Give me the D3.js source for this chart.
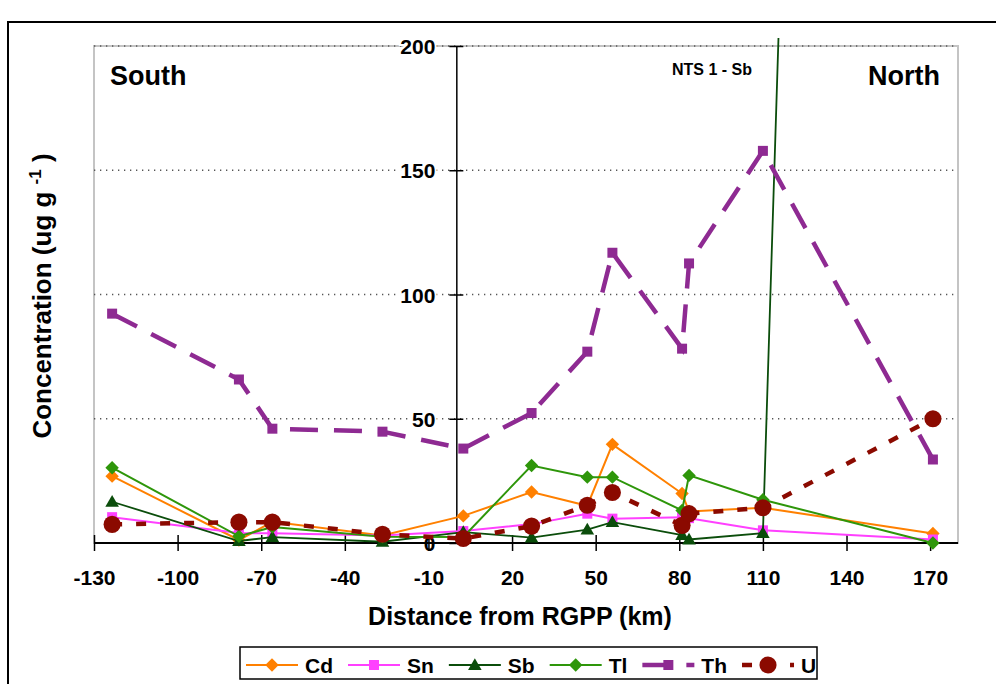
<!DOCTYPE html>
<html>
<head>
<meta charset="utf-8">
<script src="https://cdnjs.cloudflare.com/ajax/libs/d3/7.8.5/d3.min.js"></script>
<style>
  body { margin: 0; background: #fff; }
  svg text { font-family: "Liberation Sans", Arial, sans-serif; font-weight: bold; fill: #000; }
</style>
</head>
<body>
<div id="chart"></div>
<script>
// distance of each sampling site from RGPP (km)
const distances = [-123.5, -78, -66, -26.5, 2.5, 27, 47, 56, 81, 83.5, 110, 171];

// concentrations (ug g-1)
const cd = [26.9, 1.2, 8.5, 3.0, 10.9, 20.5, 15.0, 39.7, 19.9, 12.7, 14.2, 3.8];
const sn = [10.4, 4.0, 3.9, 3.0, 4.8, 7.6, 11.8, 9.8, 10.4, 10.0, 5.1, 1.4];
const sb = [16.6, 0.8, 2.4, 0.5, 4.4, 2.2, 5.4, 8.4, 3.2, 1.4, 4.0, 2180];
const tl = [30.3, 2.7, 6.4, 2.5, 2.4, 31.2, 26.5, 26.5, 13.1, 27.2, 17.4, 0];
const th = [92.3, 65.8, 46.0, 44.8, 38.0, 52.3, 77.0, 116.8, 78.2, 112.5, 157.8, 33.6];
const u  = [7.5, 8.4, 8.4, 3.5, 1.8, 6.8, 15.2, 20.3, 7.1, 11.8, 14.2, 50.0];

const xTicks = [-130, -100, -70, -40, -10, 20, 50, 80, 110, 140, 170];
const yTicks = [0, 50, 100, 150, 200];

const series = [
  {name: "Cd", values: cd, color: "#ff8000", width: 2,   dash: null,    marker: "diamond"},
  {name: "Sn", values: sn, color: "#ff40ff", width: 2,   dash: null,    marker: "square"},
  {name: "Sb", values: sb, color: "#0b4d0b", width: 2,   dash: null,    marker: "triangle"},
  {name: "Tl", values: tl, color: "#2e960a", width: 2,   dash: null,    marker: "diamond"},
  {name: "Th", values: th, color: "#8e2a92", width: 4.5, dash: "28,16", marker: "square"},
  {name: "U",  values: u,  color: "#8b0a00", width: 4.5, dash: "10,14", marker: "circle"}
];

const width = 996;
const height = 684;
const plot = {left: 94, right: 958, top: 46, bottom: 543};

const svg = d3.select("#chart").append("svg")
    .attr("width", width)
    .attr("height", height);

// outer chart frame (runs off the right and bottom)
svg.append("rect")
    .attr("x", 8).attr("y", 22)
    .attr("width", 1010).attr("height", 720)
    .attr("fill", "#fff")
    .attr("stroke", "#000")
    .attr("stroke-width", 2);

const x = d3.scaleLinear().domain([-130, 180]).range([plot.left, plot.right]);
const y = d3.scaleLinear().domain([0, 200]).range([plot.bottom, plot.top]);

// plot area border
svg.append("rect")
    .attr("x", plot.left).attr("y", plot.top)
    .attr("width", plot.right - plot.left).attr("height", plot.bottom - plot.top)
    .attr("fill", "none")
    .attr("stroke", "#c4c4c4")
    .attr("stroke-width", 2);

// dotted gridlines
svg.append("g")
    .selectAll("line")
    .data(yTicks.filter(d => d > 0))
    .enter().append("line")
    .attr("x1", plot.left).attr("x2", plot.right)
    .attr("y1", d => y(d)).attr("y2", d => y(d))
    .attr("stroke", "#555")
    .attr("stroke-width", 1.3)
    .attr("stroke-dasharray", "1.3,4.7");

// y axis through x = 0
const yAxis = d3.axisLeft(y).tickValues(yTicks).tickSize(0).tickPadding(0);
const yg = svg.append("g")
    .attr("transform", `translate(${x(0)},0)`)
    .call(yAxis);
yg.select(".domain").attr("stroke", "#000").attr("stroke-width", 1.5);
yg.selectAll(".tick line").remove();
yg.selectAll(".tick").append("line")
    .attr("x1", -7).attr("x2", 7)
    .attr("stroke", "#000").attr("stroke-width", 1.5);
yg.selectAll(".tick text")
    .attr("x", -21)
    .attr("dy", "0.36em")
    .style("font-size", "21px")
    .attr("text-anchor", "end")
    .style("paint-order", "stroke")
    .style("stroke", "#fff")
    .style("stroke-width", 4);

// x axis along y = 0
const xAxis = d3.axisBottom(x).tickValues(xTicks).tickSize(0).tickPadding(0).tickFormat(d => String(d));
const xg = svg.append("g")
    .attr("transform", `translate(0,${y(0)})`)
    .call(xAxis);
xg.select(".domain").attr("stroke", "#000").attr("stroke-width", 2);
xg.selectAll(".tick line").remove();
xg.selectAll(".tick").append("line")
    .attr("y1", -8).attr("y2", 8)
    .attr("stroke", "#000").attr("stroke-width", 1.5);
xg.selectAll(".tick text")
    .attr("y", 42)
    .attr("dy", 0)
    .style("font-size", "21px");
xg.selectAll("path.domain").attr("d", `M${plot.left},0H${plot.right}`);

// series
svg.append("clipPath").attr("id", "clip")
  .append("rect")
    .attr("x", plot.left).attr("y", 38)
    .attr("width", plot.right - plot.left).attr("height", 700);

const line = d3.line()
    .x((d, i) => x(distances[i]))
    .y(d => y(d));

function markerPath(type) {
  if (type === "diamond") return d3.symbol(d3.symbolSquare, 90)();
  if (type === "square") return d3.symbol(d3.symbolSquare, 100)();
  if (type === "triangle") return d3.symbol(d3.symbolTriangle, 80)();
  return d3.symbol(d3.symbolCircle, 230)();
}
function markerTransform(type, px, py) {
  if (type === "diamond") return `translate(${px},${py}) rotate(45)`;
  if (type === "triangle") return `translate(${px},${py + 1})`;
  return `translate(${px},${py})`;
}

series.forEach(s => {
  const g = svg.append("g").attr("class", "series");
  g.append("path")
      .attr("clip-path", "url(#clip)")
      .attr("d", line(s.values))
      .attr("fill", "none")
      .attr("stroke", s.color)
      .attr("stroke-width", s.name === "Sb" ? 1.8 : s.width)
      .attr("stroke-dasharray", s.dash);
  g.selectAll(".pt")
      .data(s.values.map((v, i) => ({x: distances[i], v: v})).filter(d => d.v <= 200))
      .enter().append("path")
      .attr("class", "pt")
      .attr("d", markerPath(s.marker))
      .attr("transform", d => markerTransform(s.marker, x(d.x), y(d.v)))
      .attr("fill", s.color);
});

// annotations
svg.append("text").attr("x", 110).attr("y", 85).style("font-size", "27px").text("South");
svg.append("text").attr("x", 940).attr("y", 85).attr("text-anchor", "end").style("font-size", "27px").text("North");
svg.append("text").attr("x", 712).attr("y", 75).attr("text-anchor", "middle").style("font-size", "16px").text("NTS 1 - Sb");

// axis titles
svg.append("text")
    .attr("x", 520)
    .attr("y", 625)
    .attr("text-anchor", "middle")
    .style("font-size", "25px")
    .text("Distance from RGPP (km)");

const ylab = svg.append("text")
    .attr("transform", "translate(51,296) rotate(-90)")
    .attr("text-anchor", "middle")
    .style("font-size", "26px");
ylab.append("tspan").text("Concentration (ug g  ");
ylab.append("tspan").attr("dy", -10).style("font-size", "17px").text("-1");
ylab.append("tspan").attr("dy", 10).text("  )");

// legend
const legend = svg.append("g");
legend.append("rect")
    .attr("x", 240).attr("y", 647)
    .attr("width", 577).attr("height", 32)
    .attr("fill", "#fff")
    .attr("stroke", "#000")
    .attr("stroke-width", 1.5);

let lx = 246;
const ly = 665;
series.forEach(s => {
  const item = legend.append("g");
  item.append("line")
      .attr("x1", lx).attr("x2", lx + 52)
      .attr("y1", ly).attr("y2", ly)
      .attr("stroke", s.color)
      .attr("stroke-width", s.width)
      .attr("stroke-dasharray", s.dash);
  item.append("path")
      .attr("d", markerPath(s.marker))
      .attr("transform", markerTransform(s.marker, lx + 26, ly))
      .attr("fill", s.color);
  const t = item.append("text")
      .attr("x", lx + 59).attr("y", ly + 8)
      .style("font-size", "21px")
      .text(s.name);
  lx += 59 + t.node().getComputedTextLength() + 15;
});
</script>
</body>
</html>
